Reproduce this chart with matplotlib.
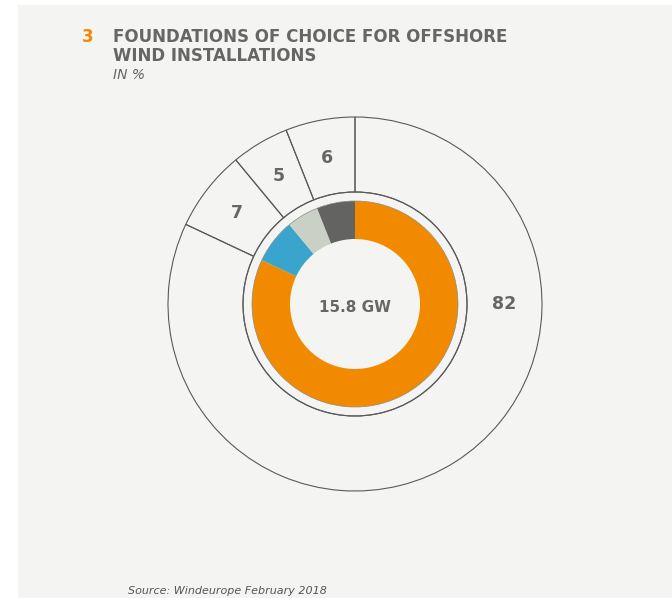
import matplotlib.pyplot as plt
from matplotlib.patches import Rectangle, Circle
import numpy as np

# foundation shares, % (clockwise from 12 o'clock)
shares = [82, 7, 5, 6]
labels = ["82", "7", "5", "6"]
colors = ["#f28a00", "#3aa5cc", "#cbd0c7", "#636362"]
total_txt = "15.8 GW"

BG = "#f4f4f2"
TXT = "#666666"
LINE = "#5a5a5a"

fig = plt.figure(figsize=(6.72, 5.98), dpi=100, facecolor="white")
ax = fig.add_axes([0, 0, 1, 1])

cx, cy = 355, 598 - 304

# outer ring with the label boxes
ax.pie(shares, radius=187, center=(cx, cy), startangle=90, counterclock=False,
       wedgeprops=dict(width=75, facecolor="none", edgecolor=LINE, linewidth=0.8))
ax.add_patch(Circle((cx, cy), 112, facecolor="none", edgecolor=LINE, linewidth=0.8, zorder=3))

# inner donut
ax.pie(shares, radius=103, center=(cx, cy), startangle=90, counterclock=False,
       colors=colors, wedgeprops=dict(width=38, edgecolor="none"))
ax.add_patch(Circle((cx, cy), 103, facecolor="none", edgecolor="#8c8c8c", linewidth=0.5, zorder=3))

# labels in the outer ring
cum = np.cumsum([0] + shares)
for i, lab in enumerate(labels):
    if i == 0:
        ang = 90.0  # big slice label sits at 3 o'clock
    else:
        ang = (cum[i] + cum[i + 1]) / 2 / 100 * 360
    r = 149
    x = cx + r * np.sin(np.radians(ang))
    y = cy + r * np.cos(np.radians(ang))
    ax.text(x, y, lab, ha="center", va="center", fontsize=12.5, fontweight="bold", color=TXT)

ax.text(cx, cy - 4, total_txt, ha="center", va="center", fontsize=11, fontweight="bold", color=TXT)

# background panel
ax.add_patch(Rectangle((18, 0), 672 - 18, 593, facecolor=BG, edgecolor="none", zorder=-10))

ax.set_xlim(0, 672)
ax.set_ylim(0, 598)
ax.set_aspect("equal")
ax.axis("off")

# title block
ax.text(82, 556, "3", fontsize=12, fontweight="bold", color="#f28a00", va="baseline")
ax.text(113, 556, "FOUNDATIONS OF CHOICE FOR OFFSHORE", fontsize=12, fontweight="bold",
        color=TXT, va="baseline")
ax.text(113, 537, "WIND INSTALLATIONS", fontsize=12, fontweight="bold", color=TXT, va="baseline")
ax.text(113, 519, "IN %", fontsize=10, style="italic", color=TXT, va="baseline")

ax.text(128, 4, "Source: Windeurope February 2018", fontsize=8, style="italic",
        color="#555555", va="baseline")

fig.savefig("out.png", dpi=100, facecolor=fig.get_facecolor())
